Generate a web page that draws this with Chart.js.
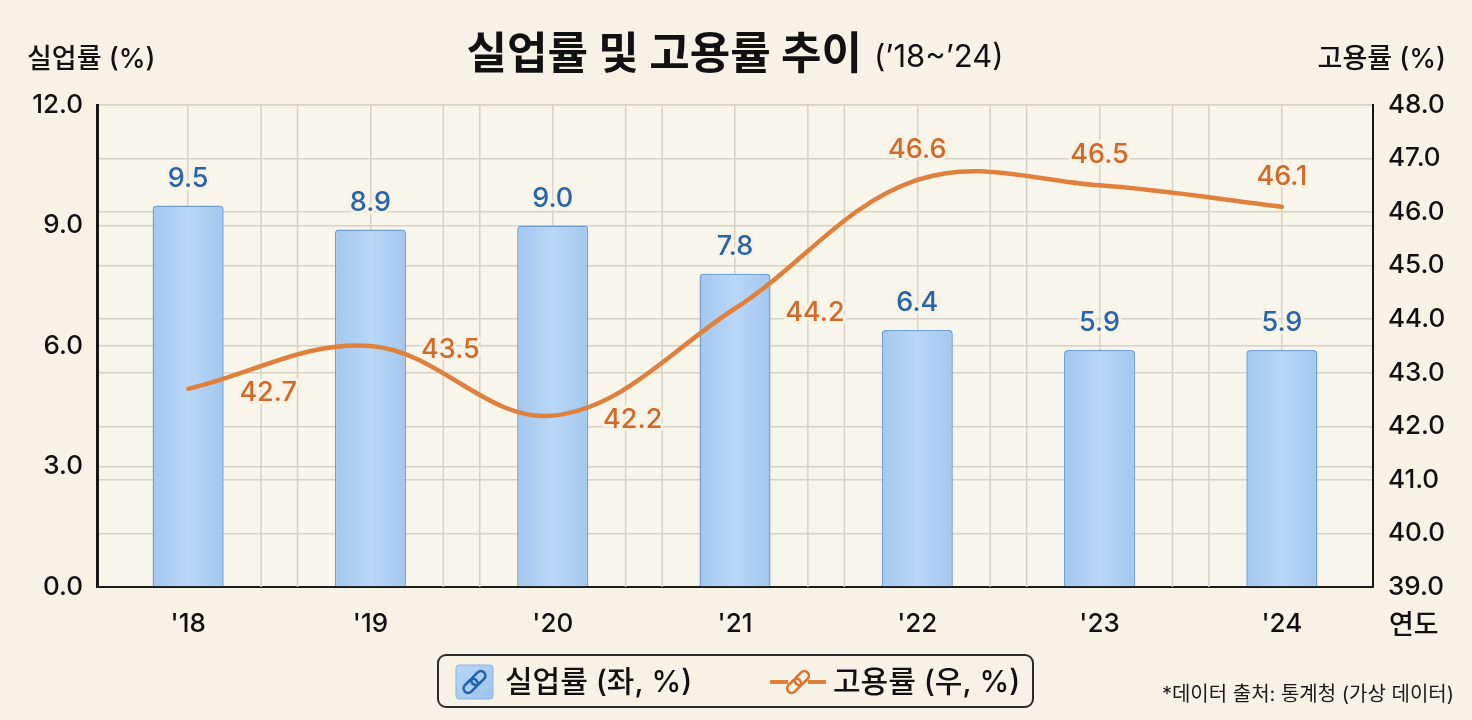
<!DOCTYPE html>
<html lang="ko">
<head>
<meta charset="utf-8">
<title>실업률 및 고용률 추이</title>
<script src="https://cdn.jsdelivr.net/npm/chart.js@4.4.0/dist/chart.umd.min.js"></script>
<style>
    html, body { margin: 0; padding: 0; background: #f6f2e6; }
    #wrap { position: relative; width: 1472px; height: 720px; }
</style>
</head>
<body>
<div id="wrap"><canvas id="rateChart"></canvas></div>
<script>
// Chart data
const years = ["'18", "'19", "'20", "'21", "'22", "'23", "'24"];
const unemploymentRate = [9.5, 8.9, 9.0, 7.8, 6.4, 5.9, 5.9];
const employmentRate = [42.7, 43.5, 42.2, 44.2, 46.6, 46.5, 46.1];
const leftTicks = [0, 3, 6, 9, 12];
const rightTicks = [39, 40, 41, 42, 43, 44, 45, 46, 47, 48];

const FONT = 'Inter, "Noto Sans CJK KR", sans-serif';
const BG = '#f6f2e6';
const GRID = '#d6d2c6';
const BLUE_TEXT = '#2764ab';
const ORANGE = '#e0803d';
const ORANGE_TEXT = '#cf6a28';

// Bar fill: soft gradient from edges to center
function barFill(context) {
    const chart = context.chart;
    const xScale = chart.scales.x;
    if (!chart.chartArea || context.dataIndex === undefined || !xScale) return '#b3d3f4';
    const cx = xScale.getPixelForValue(context.dataIndex);
    const g = chart.ctx.createLinearGradient(cx - 36, 0, cx + 36, 0);
    g.addColorStop(0, '#a2c7ef');
    g.addColorStop(0.5, '#b9d7f7');
    g.addColorStop(1, '#a2c7ef');
    return g;
}

// Small chain glyph used in the legend
function drawChain(ctx, cx, cy, color) {
    ctx.save();
    ctx.translate(cx, cy);
    ctx.rotate(-Math.PI / 4);
    ctx.strokeStyle = color;
    ctx.lineWidth = 2.6;
    [-5.5, 5.5].forEach(off => {
        ctx.beginPath();
        ctx.roundRect(off - 8, -4.5, 16, 9, 4.5);
        ctx.stroke();
    });
    ctx.restore();
}

// Extra vertical grid lines beside category boundaries
const extraGrid = {
    id: 'extraGrid',
    beforeDatasetsDraw(chart) {
        const { ctx, chartArea, scales: { x } } = chart;
        const step = x.getPixelForValue(1) - x.getPixelForValue(0);
        ctx.save();
        ctx.strokeStyle = GRID;
        ctx.lineWidth = 1.5;
        for (let i = 0; i < years.length - 1; i++) {
            const b = (x.getPixelForValue(i) + x.getPixelForValue(i + 1)) / 2;
            [-0.1, 0.1].forEach(k => {
                ctx.beginPath();
                ctx.moveTo(b + k * step, chartArea.top);
                ctx.lineTo(b + k * step, chartArea.bottom);
                ctx.stroke();
            });
        }
        ctx.restore();
    }
};

// Value labels over bars and next to line points
const valueLabels = {
    id: 'valueLabels',
    afterDatasetsDraw(chart) {
        const ctx = chart.ctx;
        ctx.save();
        ctx.font = '500 27px ' + FONT;
        ctx.textAlign = 'center';
        ctx.textBaseline = 'middle';
        ctx.lineJoin = 'round';
        ctx.lineWidth = 6;
        ctx.strokeStyle = BG;

        const bars = chart.getDatasetMeta(0).data;
        bars.forEach((bar, i) => {
            const txt = unemploymentRate[i].toFixed(1);
            ctx.strokeText(txt, bar.x, bar.y - 27);
            ctx.fillStyle = BLUE_TEXT;
            ctx.fillText(txt, bar.x, bar.y - 27);
        });

        const pts = chart.getDatasetMeta(1).data;
        pts.forEach((pt, i) => {
            const txt = employmentRate[i].toFixed(1);
            // labels sit to the right while the line runs below the bar tops
            const beside = unemploymentRate[i] > 7;
            const lx = beside ? pt.x + 80 : pt.x;
            const ly = beside ? pt.y + 4 : pt.y - 30;
            ctx.strokeText(txt, lx, ly);
            ctx.fillStyle = ORANGE_TEXT;
            ctx.fillText(txt, lx, ly);
        });
        ctx.restore();
    }
};

// Title, axis captions, legend box and source note
const decorations = {
    id: 'decorations',
    afterDraw(chart) {
        const { ctx, chartArea } = chart;
        ctx.save();
        ctx.fillStyle = '#111';
        ctx.textBaseline = 'middle';

        // title
        const mainTitle = '실업률 및 고용률 추이';
        const subTitle = '(’18~’24)';
        const mainFont = 'bold 44px ' + FONT;
        const subFont = '31px ' + FONT;
        ctx.font = mainFont;
        const w1 = ctx.measureText(mainTitle).width;
        ctx.font = subFont;
        const w2 = ctx.measureText(subTitle).width;
        const gap = 12;
        const cx = (chartArea.left + chartArea.right) / 2;
        const tx = cx - (w1 + gap + w2) / 2;
        ctx.textAlign = 'left';
        ctx.font = mainFont;
        ctx.fillText(mainTitle, tx, 56);
        ctx.font = subFont;
        ctx.fillText(subTitle, tx + w1 + gap, 58);

        // axis captions
        ctx.font = '500 27px ' + FONT;
        ctx.textAlign = 'left';
        ctx.fillText('실업률 (%)', 27, 60);
        ctx.textAlign = 'right';
        ctx.fillText('고용률 (%)', 1446, 60);
        ctx.textAlign = 'left';
        ctx.font = '500 27px ' + FONT;
        ctx.fillText('연도', 1389, 626);

        // legend
        ctx.strokeStyle = '#2b2b2b';
        ctx.lineWidth = 2;
        ctx.beginPath();
        ctx.roundRect(438, 655, 595, 52, 8);
        ctx.stroke();

        const sq = ctx.createLinearGradient(456, 665, 493, 699);
        sq.addColorStop(0, '#b9d7f6');
        sq.addColorStop(1, '#9dc3ec');
        ctx.fillStyle = sq;
        ctx.beginPath();
        ctx.roundRect(456, 665, 37, 34, 3);
        ctx.fill();
        ctx.strokeStyle = '#8db5e2';
        ctx.lineWidth = 1;
        ctx.stroke();
        drawChain(ctx, 474.5, 682, '#2361ad');

        ctx.strokeStyle = ORANGE;
        ctx.lineWidth = 4;
        ctx.beginPath();
        ctx.moveTo(770, 682);
        ctx.lineTo(826, 682);
        ctx.stroke();
        ctx.fillStyle = BG;
        ctx.beginPath();
        ctx.arc(798, 682, 10, 0, Math.PI * 2);
        ctx.fill();
        drawChain(ctx, 798, 682, '#d9752f');

        ctx.fillStyle = '#111';
        ctx.font = '500 30px ' + FONT;
        ctx.textAlign = 'left';
        ctx.fillText(chart.data.datasets[0].label, 505, 683);
        ctx.fillText(chart.data.datasets[1].label, 833, 683);

        // source
        ctx.font = '20px ' + FONT;
        ctx.textAlign = 'right';
        ctx.fillStyle = '#1a1a1a';
        ctx.fillText('*데이터 출처: 통계청 (가상 데이터)', 1454, 695);
        ctx.restore();
    }
};

// Plot area background
const plotBackground = {
    id: 'plotBackground',
    beforeDraw(chart) {
        const { ctx, chartArea } = chart;
        ctx.save();
        ctx.fillStyle = BG;
        ctx.fillRect(0, 0, chart.width, chart.height);
        ctx.fillStyle = '#f8f5eb';
        ctx.fillRect(chartArea.left, chartArea.top, chartArea.right - chartArea.left, chartArea.bottom - chartArea.top);
        ctx.restore();
    }
};

const tickFont = { family: FONT, size: 26, weight: 500 };

new Chart(document.getElementById('rateChart'), {
    data: {
        labels: years,
        datasets: [{
            type: 'bar',
            label: '실업률 (좌, %)',
            data: unemploymentRate,
            yAxisID: 'y',
            order: 2,
            backgroundColor: barFill,
            borderColor: '#6e9fd5',
            borderWidth: 1.5,
            borderRadius: 4,
            barPercentage: 0.39,
            categoryPercentage: 1.0
        }, {
            type: 'line',
            label: '고용률 (우, %)',
            data: employmentRate,
            yAxisID: 'y1',
            order: 1,
            borderColor: ORANGE,
            borderWidth: 4.5,
            borderCapStyle: 'round',
            tension: 0.37,
            pointRadius: 0,
            fill: false
        }]
    },
    options: {
        responsive: true,
        maintainAspectRatio: false,
        animation: false,
        layout: { padding: { top: 105, left: 0, right: 0, bottom: 0 } },
        plugins: {
            legend: { display: false },
            title: { display: false },
            tooltip: { enabled: false }
        },
        scales: {
            x: {
                offset: true,
                grid: { color: GRID, lineWidth: 1.5, drawTicks: false, offset: false },
                border: { color: '#1c1c1c', width: 2 },
                ticks: { font: tickFont, color: '#111', padding: 22 },
                afterFit(scale) { scale.height = 133; }
            },
            y: {
                position: 'left',
                min: leftTicks[0],
                max: leftTicks[leftTicks.length - 1],
                afterBuildTicks(scale) { scale.ticks = leftTicks.map(v => ({ value: v })); },
                grid: { color: GRID, lineWidth: 1.5, drawTicks: false },
                border: { color: '#161616', width: 3 },
                ticks: { font: tickFont, color: '#111', padding: 14, callback: v => v.toFixed(1) },
                afterFit(scale) { scale.width = 97; }
            },
            y1: {
                position: 'right',
                min: rightTicks[0],
                max: rightTicks[rightTicks.length - 1],
                afterBuildTicks(scale) { scale.ticks = rightTicks.map(v => ({ value: v })); },
                grid: { color: GRID, lineWidth: 1.5, drawTicks: false },
                border: { color: '#161616', width: 2 },
                ticks: { font: tickFont, color: '#111', padding: 15, callback: v => v.toFixed(1) },
                afterFit(scale) { scale.width = 99; }
            }
        }
    },
    plugins: [plotBackground, extraGrid, valueLabels, decorations]
});
</script>
</body>
</html>
